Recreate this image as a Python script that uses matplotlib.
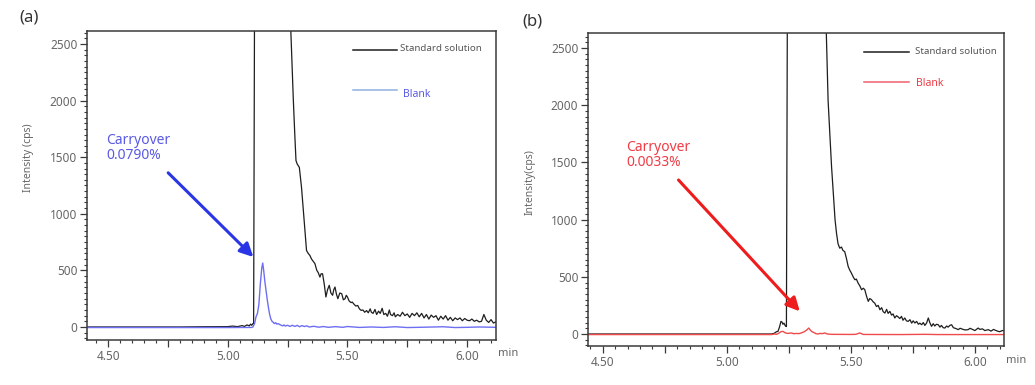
import matplotlib
matplotlib.use("Agg")
import matplotlib.pyplot as plt
from matplotlib.ticker import MultipleLocator, FuncFormatter

plt.rcParams['font.family'] = ['Noto Sans', 'DejaVu Sans']

# ---- panel (a) ----
std_a_t = [4.41, 4.70, 4.80, 4.90, 5.00, 5.02, 5.04, 5.06, 5.07, 5.08, 5.09, 5.095, 5.10, 5.105, 5.108,
           5.112, 5.16, 5.22, 5.262, 5.274, 5.28, 5.285, 5.29, 5.299, 5.308, 5.318, 5.329, 5.336, 5.343,
           5.35, 5.357, 5.364, 5.372, 5.378, 5.385, 5.39, 5.396, 5.403, 5.41, 5.417, 5.424, 5.431, 5.438,
           5.443, 5.448, 5.454, 5.46, 5.468, 5.476, 5.483, 5.49, 5.495, 5.50, 5.507, 5.515, 5.52, 5.528,
           5.535, 5.543, 5.55, 5.557, 5.565, 5.572, 5.58, 5.587, 5.595, 5.60, 5.607, 5.615, 5.622, 5.63,
           5.637, 5.645, 5.652, 5.66, 5.667, 5.675, 5.68, 5.688, 5.695, 5.70, 5.71, 5.72, 5.73, 5.74,
           5.75, 5.76, 5.77, 5.78, 5.79, 5.80, 5.81, 5.82, 5.83, 5.84, 5.85, 5.86, 5.87, 5.88, 5.89,
           5.90, 5.91, 5.92, 5.93, 5.94, 5.95, 5.96, 5.97, 5.98, 5.99, 6.00, 6.01, 6.02, 6.03, 6.04,
           6.05, 6.06, 6.07, 6.08, 6.09, 6.10, 6.11, 6.12]
std_a_y = [0, 0, 0, 2, 3, 8, 3, 12, 5, 18, 10, 25, 15, 30, 30,
           3000, 15000, 8000, 2700, 2000, 1700, 1470, 1440, 1410, 1235, 970, 676, 650, 632,
           600, 580, 560, 500, 480, 441, 470, 470, 380, 265, 330, 368, 300, 280,
           330, 353, 290, 250, 300, 294, 240, 250, 280, 265, 230, 215, 220, 200,
           185, 190, 160, 147, 150, 130, 145, 125, 160, 130, 120, 155, 110, 140,
           120, 165, 110, 120, 95, 150, 110, 100, 125, 90, 110, 95, 130, 100,
           115, 85, 120, 100, 125, 90, 120, 80, 110, 70, 105, 85, 100, 60, 95,
           70, 100, 60, 85, 55, 80, 65, 80, 55, 75, 60, 55, 70, 50, 60,
           45, 50, 110, 60, 40, 65, 35, 45]

blank_a_t = [4.41, 5.00, 5.10, 5.105, 5.112, 5.118, 5.124, 5.13, 5.136, 5.142, 5.146, 5.15, 5.155,
             5.16, 5.165, 5.17, 5.175, 5.18, 5.185, 5.19, 5.195, 5.20, 5.205, 5.21, 5.22, 5.23,
             5.235, 5.24, 5.25, 5.26, 5.27, 5.28, 5.29, 5.30, 5.31, 5.32, 5.33, 5.34, 5.36, 5.38,
             5.40, 5.42, 5.45, 5.48, 5.50, 5.55, 5.60, 5.65, 5.70, 5.75, 5.80, 5.90, 5.95, 6.00,
             6.05, 6.12]
blank_a_y = [-5, -5, -4, 0, 30, 90, 120, 200, 380, 520, 565, 500, 400,
             320, 240, 170, 110, 70, 50, 40, 30, 38, 25, 30, 18, 10,
             18, 8, 15, 5, 15, 5, 14, 2, 12, 4, 10, 0, 6, -2,
             4, -3, 3, -3, 4, -4, 0, -4, 2, -5, -3, 2, -5, -3,
             0, -3]

# ---- panel (b) ----
std_b_t = [4.44, 4.80, 5.10, 5.18, 5.19, 5.20, 5.206, 5.212, 5.218, 5.222, 5.226, 5.23, 5.236, 5.24,
           5.244, 5.30, 5.39, 5.40, 5.408, 5.415, 5.422, 5.43, 5.436, 5.442, 5.448, 5.455, 5.462,
           5.468, 5.475, 5.482, 5.489, 5.495, 5.502, 5.509, 5.516, 5.522, 5.529, 5.536, 5.543, 5.55,
           5.556, 5.563, 5.57, 5.576, 5.583, 5.59, 5.596, 5.603, 5.61, 5.617, 5.624, 5.63, 5.637,
           5.644, 5.65, 5.657, 5.664, 5.67, 5.677, 5.684, 5.69, 5.697, 5.704, 5.71, 5.717, 5.724,
           5.731, 5.738, 5.745, 5.751, 5.758, 5.765, 5.772, 5.778, 5.785, 5.792, 5.798, 5.805, 5.812,
           5.818, 5.825, 5.832, 5.838, 5.845, 5.852, 5.859, 5.865, 5.872, 5.879, 5.886, 5.892, 5.899,
           5.906, 5.913, 5.92, 5.926, 5.933, 5.94, 5.95, 5.96, 5.973, 5.98, 5.99, 6.00, 6.013, 6.02,
           6.03, 6.04, 6.054, 6.065, 6.075, 6.085, 6.094, 6.10, 6.11, 6.117]
std_b_y = [0, 0, 0, 0, 5, 20, 23, 60, 110, 105, 85, 95, 70, 65,
           3000, 20000, 4000, 2700, 2044, 1750, 1462, 1200, 1000, 880, 790, 750, 760,
           730, 720, 660, 590, 560, 532, 500, 474, 480, 445, 420, 387, 400,
           387, 330, 285, 310, 300, 280, 270, 240, 250, 212, 230, 195, 183,
           215, 180, 198, 165, 175, 140, 160, 150, 135, 154, 120, 140, 115,
           110, 125, 95, 115, 96, 110, 85, 95, 81, 100, 75, 95, 140,
           100, 67, 90, 70, 85, 81, 60, 75, 55, 52, 70, 60, 75,
           81, 55, 50, 45, 38, 50, 42, 35, 38, 50, 40, 30, 52, 40,
           45, 30, 38, 25, 40, 30, 23, 20, 30, 28]

blank_b_t = [4.44, 5.18, 5.193, 5.20, 5.21, 5.218, 5.226, 5.235, 5.245, 5.26, 5.27, 5.28, 5.29, 5.30,
             5.31, 5.314, 5.322, 5.33, 5.336, 5.342, 5.348, 5.355, 5.36, 5.368, 5.375, 5.385, 5.395,
             5.405, 5.42, 5.50, 5.52, 5.53, 5.536, 5.542, 5.55, 5.70, 5.80, 5.85, 6.117]
blank_b_y = [-5, -5, 0, -3, 8, 20, 23, 10, 5, 9, 2, 5, 3, 9,
             18, 23, 35, 52, 35, 22, 15, 8, 2, 0, 5, 3, 9,
             0, -3, -4, -3, 5, 9, 3, -4, -5, -3, -5, -5]

panels = [
    dict(rect=[0.0841, 0.1169, 0.3952, 0.8026], xlim=(4.412, 6.121), ylim=(-115, 2615),
         std_t=std_a_t, std_y=std_a_y, bl_t=blank_a_t, bl_y=blank_a_y,
         line_c="#6e6ef2", leg_c="#8fb0e2", txt_c="#5a5ae6", arr_c="#2a36e6",
         letter="(a)", letter_xy=(0.019, 0.955), ylabel="Intensity (cps)", ylabel_xy=(-0.13, 0.59),
         leg_x=(0.650, 0.758, 0.765, 0.772), leg_y=(0.939, 0.942, 0.809, 0.796),
         note="Carryover\n0.0790%", note_xy=(4.493, 1450),
         arr_from=(4.751, 1362), arr_to=(5.107, 618)),
    dict(rect=[0.5681, 0.1013, 0.4019, 0.8130], xlim=(4.44, 6.117), ylim=(-105, 2631),
         std_t=std_b_t, std_y=std_b_y, bl_t=blank_b_t, bl_y=blank_b_y,
         line_c="#f04a4a", leg_c="#f06070", txt_c="#f03c46", arr_c="#ee1c1c",
         letter="(b)", letter_xy=(0.505, 0.945), ylabel="Intensity(cps)", ylabel_xy=(-0.127, 0.524),
         leg_x=(0.663, 0.772, 0.786, 0.789), leg_y=(0.939, 0.942, 0.843, 0.838),
         note="Carryover\n0.0033%", note_xy=(4.593, 1430),
         arr_from=(4.805, 1346), arr_to=(5.294, 198)),
]

fig = plt.figure(figsize=(10.35, 3.85), dpi=100, facecolor='white')

for p in panels:
    ax = fig.add_axes(p['rect'])
    ax.plot(p['std_t'], p['std_y'], color='#1e1e1e', lw=0.9)
    ax.plot(p['bl_t'], p['bl_y'], color=p['line_c'], lw=1.0)
    ax.set_xlim(*p['xlim'])
    ax.set_ylim(*p['ylim'])

    for s in ax.spines.values():
        s.set_color('#3a3a3a')
        s.set_linewidth(1.1)

    ax.xaxis.set_major_locator(MultipleLocator(0.25))
    ax.xaxis.set_minor_locator(MultipleLocator(0.05))
    ax.xaxis.set_major_formatter(FuncFormatter(
        lambda v, pos: "%.2f" % v if abs(v * 2 - round(v * 2)) < 1e-6 else ""))
    ax.yaxis.set_major_locator(MultipleLocator(500))
    ax.yaxis.set_minor_locator(MultipleLocator(50))
    ax.tick_params(axis='both', which='major', direction='out', length=5, width=0.9,
                   color='#3a3a3a', labelsize=8.5, labelcolor='#666666', pad=2)
    ax.tick_params(axis='both', which='minor', direction='out', length=2.5, width=0.8,
                   color='#3a3a3a')

    ax.set_ylabel(p['ylabel'], fontsize=7.5, color='#666666')
    ax.yaxis.set_label_coords(*p['ylabel_xy'])
    ax.text(1.005, -0.045, "min", transform=ax.transAxes, fontsize=8, color='#666666',
            ha='left', va='center')

    # legend drawn by hand like the instrument software
    lx0, lx1, tx_std, tx_bl = p['leg_x']
    ly_std, ty_std, ly_bl, ty_bl = p['leg_y']
    ax.plot([lx0, lx1], [ly_std, ly_std], transform=ax.transAxes, color='#1e1e1e', lw=1.1)
    ax.text(tx_std, ty_std, "Standard solution", transform=ax.transAxes, fontsize=7,
            color='#555555', ha='left', va='center')
    ax.plot([lx0, lx1], [ly_bl, ly_bl], transform=ax.transAxes, color=p['leg_c'], lw=1.1)
    ax.text(tx_bl, ty_bl, "Blank", transform=ax.transAxes, fontsize=7.5,
            color=p['txt_c'], ha='left', va='center')

    ax.text(p['note_xy'][0], p['note_xy'][1], p['note'], fontsize=10, color=p['txt_c'],
            ha='left', va='bottom', linespacing=1.0)
    ax.annotate("", xy=p['arr_to'], xytext=p['arr_from'],
                arrowprops=dict(arrowstyle='-|>,head_length=0.8,head_width=0.4',
                                color=p['arr_c'], lw=2.2, shrinkA=0, shrinkB=0))

    fig.text(p['letter_xy'][0], p['letter_xy'][1], p['letter'], fontsize=12, color='#333333',
             ha='left', va='center')

fig.savefig("out.png", dpi=100, facecolor='white')
